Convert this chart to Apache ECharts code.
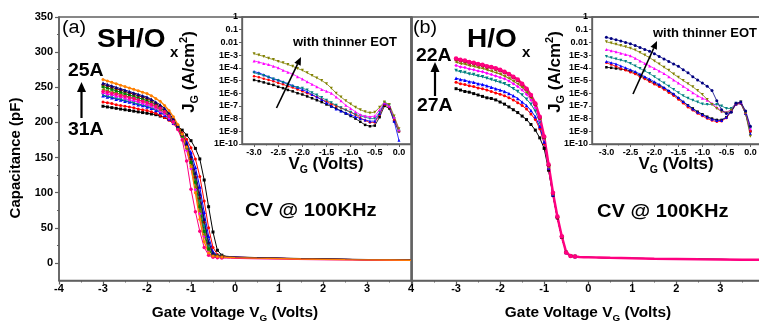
<!DOCTYPE html>
<html><head><meta charset="utf-8">
<script src="https://cdn.jsdelivr.net/npm/echarts@6/dist/echarts.min.js"></script>
<style>html,body{margin:0;padding:0;background:#fff}#c{width:759px;height:324px}</style>
</head><body><div id="c"></div>
<script>
// ---------- DATA ----------
// main C-V sweeps (Volts)
const vCV = [-3.0,-2.9,-2.8,-2.7,-2.6,-2.5,-2.4,-2.3,-2.2,-2.1,-2.0,-1.9,-1.8,-1.7,-1.6,-1.5,-1.4,-1.3,-1.2,-1.1,-1.0,-0.9,-0.8,-0.7,-0.6,-0.5,-0.4,-0.3,-0.2,-0.1,0,0.5,1,1.5,2,2.5,3,3.5,4];
// (a) SH/Ox capacitance (pF)
const cvA_black  = [223,222,221,220,219,218,217,216,215,214,213,212,211,209,207,204,200,195,189,182,174,163,148,118,80,44,18,11,9.5,9,8.6,7.6,6.9,6.3,5.8,5.3,4.9,4.6,4.4];
const cvA_red    = [229,228,227,225,224,223,222,221,219,218,217,215,213,210,207,203,198,192,185,176,164,148,123,88,50,22,12,10,9,8.6,8.3,7.4,6.7,6.1,5.6,5.1,4.7,4.4,4.2];
const cvA_blue   = [238,236,235,233,232,230,229,227,225,224,222,220,217,214,210,205,199,192,183,172,157,136,108,72,38,16,11,9.5,9,8.6,8.3,7.3,6.6,6,5.5,5,4.6,4.3,4.1];
const cvA_cyan   = [239,237,236,234,233,231,230,228,226,225,223,221,218,215,211,206,199,191,180,166,146,120,88,52,24,12,10,9,8.5,8.2,7.9,7.1,6.5,5.9,5.4,5,4.6,4.3,4.1];
const cvA_magenta= [242,240,239,237,236,234,232,231,229,227,225,223,220,216,212,206,199,190,178,160,134,104,70,38,17,11,9.5,9,8.5,8.2,7.9,7.1,6.5,5.9,5.4,5,4.6,4.3,4.1];
const cvA_olive  = [247,245,243,242,240,238,236,234,232,230,228,225,222,218,214,208,200,191,179,162,138,108,74,40,18,11,9.5,9,8.5,8.2,7.9,7.1,6.5,5.9,5.4,5,4.6,4.3,4.1];
const cvA_green  = [251,249,247,245,243,241,239,237,235,233,231,228,225,221,216,210,202,193,181,165,143,115,80,45,20,11,9.5,9,8.5,8.2,7.9,7.1,6.5,5.9,5.4,5,4.6,4.3,4.1];
const cvA_wine   = [254,252,250,248,246,244,242,240,238,236,234,231,227,223,218,212,204,194,183,168,148,122,92,58,28,13,10,9,8.5,8.2,7.9,7.1,6.5,5.9,5.4,5,4.6,4.3,4.1];
const cvA_navy   = [256,254,252,250,248,246,244,242,240,238,236,233,229,225,220,213,205,195,183,170,152,128,98,62,30,14,10,9,8.5,8.2,7.9,7.1,6.5,5.9,5.4,5,4.6,4.3,4.1];
const cvA_pink   = [244,243,241,240,238,237,235,234,232,230,228,226,223,220,215,209,201,190,175,145,105,73,45,22,11,8,7.5,7,6.8,6.6,6.4,5.8,5.3,4.8,4.4,4.1,3.8,3.6,3.4];
const cvA_orange = [261,259,257,255,253,251,249,247,245,243,241,238,234,230,224,217,208,197,183,165,137,100,62,30,14,10,9,8.5,8,7.8,7.5,6.8,6.2,5.6,5.1,4.7,4.4,4.1,3.9];
// (b) H/Ox capacitance (pF)
const cvB_black  = [248,246,244,243,241,239,237,235,234,232,229,226,222,218,214,209,204,197,189,178,163,132,96,64,37,15,10,9,8.5,8.2,8,7.2,6.6,6.1,5.7,5.3,5,4.7,4.5];
const cvB_red    = [257,255,254,252,251,249,248,246,244,242,240,238,235,232,228,224,219,212,204,191,170,134,97,65,37,15,10,9,8.5,8.2,8,7.2,6.6,6.1,5.7,5.3,5,4.7,4.5];
const cvB_blue   = [263,261,260,258,257,255,254,252,250,248,246,244,241,238,234,229,224,217,208,194,172,135,97,65,37,15,10,9,8.5,8.2,8,7.2,6.6,6.1,5.7,5.3,5,4.7,4.5];
const cvB_cyan   = [274,272,271,269,268,266,265,263,261,259,257,255,252,248,244,239,233,226,216,200,175,136,98,65,37,15,10,9,8.5,8.2,8,7.2,6.6,6.1,5.7,5.3,5,4.7,4.5];
const cvB_magenta= [281,279,278,276,275,273,272,270,268,266,264,262,259,255,251,246,240,232,221,203,176,137,98,65,37,15,10,9,8.5,8.2,8,7.2,6.6,6.1,5.7,5.3,5,4.7,4.5];
const cvB_olive  = [286,284,283,281,280,278,277,275,273,271,269,266,263,259,255,250,243,235,224,205,177,137,98,65,37,15,10,9,8.5,8.2,8,7.2,6.6,6.1,5.7,5.3,5,4.7,4.5];
const cvB_wine   = [290,288,287,285,284,282,281,279,278,276,274,271,268,264,260,254,247,238,226,207,179,139,99,65,37,15,10,9,8.5,8.2,8,7.2,6.6,6.1,5.7,5.3,5,4.7,4.5];
const cvB_pink   = [291,289,288,286,285,283,282,280,279,277,275,272,269,265,261,255,248,239,227,208,180,140,100,66,38,15,10,9,8.5,8.2,8,7.2,6.6,6.1,5.7,5.3,5,4.7,4.5];

// inset J-V sweeps (Volts) and leakage current density (A/cm^2)
const vJ = [-3.0,-2.9,-2.8,-2.7,-2.6,-2.5,-2.4,-2.3,-2.2,-2.1,-2.0,-1.9,-1.8,-1.7,-1.6,-1.5,-1.4,-1.3,-1.2,-1.1,-1.0,-0.9,-0.8,-0.7,-0.6,-0.5,-0.4,-0.3,-0.2,-0.1,0.0];
const jA_olive  = [1.3e-3,1.0e-3,7.9e-4,5.6e-4,4.5e-4,3.2e-4,2.5e-4,1.8e-4,1.3e-4,8.9e-5,6.3e-5,4.0e-5,2.5e-5,1.6e-5,1.0e-5,5.6e-6,2.5e-6,1.0e-6,5.0e-7,2.5e-7,1.4e-7,7.9e-8,5.0e-8,3.5e-8,2.8e-8,3.2e-8,7.9e-8,2.0e-7,1.3e-7,1.6e-8,1.6e-9];
const jA_magenta= [3.5e-4,2.8e-4,2.2e-4,1.8e-4,1.3e-4,1.0e-4,6.3e-5,4.5e-5,3.2e-5,2.0e-5,1.3e-5,7.9e-6,5.0e-6,3.2e-6,2.0e-6,1.4e-6,1.0e-6,5.0e-7,2.5e-7,1.1e-7,6.3e-8,3.5e-8,2.0e-8,1.6e-8,1.4e-8,1.6e-8,5.0e-8,1.8e-7,1.0e-7,1.3e-8,1.3e-9];
const jA_cyan   = [4.0e-5,3.2e-5,2.5e-5,1.8e-5,1.3e-5,1.0e-5,7.1e-6,5.0e-6,3.5e-6,2.8e-6,2.5e-6,1.8e-6,1.1e-6,7.1e-7,4.5e-7,2.8e-7,1.8e-7,1.1e-7,7.1e-8,4.5e-8,3.2e-8,2.2e-8,1.6e-8,1.3e-8,1.0e-8,1.0e-8,3.2e-8,1.8e-7,1.1e-7,1.0e-8,1.0e-9];
const jA_blue   = [5.0e-5,4.0e-5,2.8e-5,2.0e-5,1.4e-5,1.1e-5,7.9e-6,5.6e-6,4.0e-6,2.8e-6,2.0e-6,1.3e-6,7.9e-7,5.0e-7,3.2e-7,1.8e-7,1.0e-7,5.6e-8,4.0e-8,2.8e-8,2.0e-8,1.4e-8,1.0e-8,7.9e-9,6.3e-9,6.3e-9,2.5e-8,1.6e-7,1.0e-7,6.3e-9,2.0e-10];
const jA_red    = [2.2e-5,1.8e-5,1.4e-5,1.1e-5,8.9e-6,6.3e-6,5.0e-6,3.5e-6,2.8e-6,2.0e-6,1.4e-6,1.0e-6,7.1e-7,5.0e-7,3.2e-7,2.2e-7,1.4e-7,1.0e-7,7.1e-8,5.0e-8,3.2e-8,2.0e-8,1.1e-8,7.1e-9,5.0e-9,5.0e-9,2.0e-8,1.3e-7,7.9e-8,7.9e-9,1.0e-9];
const jA_black  = [1.1e-5,8.9e-6,7.1e-6,5.6e-6,4.5e-6,3.2e-6,2.5e-6,1.8e-6,1.4e-6,1.0e-6,7.9e-7,5.6e-7,4.0e-7,2.8e-7,2.0e-7,1.3e-7,8.9e-8,6.3e-8,4.0e-8,2.5e-8,1.6e-8,1.0e-8,5.6e-9,3.2e-9,2.5e-9,2.8e-9,1.3e-8,1.0e-7,6.3e-8,6.3e-9,1.0e-9];
const jB_navy   = [2.5e-2,2.0e-2,1.6e-2,1.3e-2,1.0e-2,7.9e-3,5.6e-3,4.0e-3,2.8e-3,2.0e-3,1.3e-3,7.9e-4,5.0e-4,3.2e-4,2.0e-4,1.3e-4,7.1e-5,4.0e-5,2.0e-5,1.1e-5,6.3e-6,3.5e-6,1.6e-6,2.5e-7,5.0e-8,2.5e-8,3.2e-8,1.6e-7,2.0e-7,4.0e-8,2.5e-9];
const jB_olive  = [1.1e-2,8.9e-3,7.1e-3,5.6e-3,4.5e-3,3.5e-3,2.5e-3,1.6e-3,1.0e-3,6.3e-4,3.5e-4,2.0e-4,1.1e-4,6.3e-5,3.2e-5,1.8e-5,1.0e-5,5.6e-6,3.2e-6,1.6e-6,7.9e-7,3.2e-7,1.3e-7,6.3e-8,3.5e-8,2.8e-8,4.5e-8,1.4e-7,2.0e-7,2.5e-8,4.0e-10];
const jB_magenta= [2.8e-3,2.2e-3,1.8e-3,1.4e-3,1.1e-3,8.9e-4,5.6e-4,3.5e-4,2.2e-4,1.4e-4,8.9e-5,5.6e-5,3.5e-5,2.0e-5,1.1e-5,6.3e-6,3.5e-6,2.0e-6,1.1e-6,6.3e-7,4.0e-7,2.8e-7,1.6e-7,7.9e-8,4.0e-8,3.2e-8,5.0e-8,1.6e-7,2.0e-7,3.2e-8,1.6e-9];
const jB_cyan   = [7.9e-4,6.3e-4,5.0e-4,4.0e-4,3.2e-4,2.2e-4,1.4e-4,8.9e-5,5.6e-5,3.5e-5,2.0e-5,1.1e-5,6.3e-6,3.5e-6,2.0e-6,1.1e-6,6.3e-7,4.0e-7,2.8e-7,2.0e-7,1.4e-7,1.3e-7,1.3e-7,1.3e-7,1.0e-7,6.3e-8,6.3e-8,1.6e-7,2.0e-7,3.2e-8,1.6e-9];
const jB_blue   = [3.2e-4,2.5e-4,2.0e-4,1.4e-4,1.0e-4,7.1e-5,5.0e-5,3.2e-5,2.0e-5,1.3e-5,7.9e-6,5.0e-6,2.8e-6,1.6e-6,8.9e-7,4.5e-7,2.2e-7,1.1e-7,5.6e-8,3.2e-8,2.0e-8,1.3e-8,8.9e-9,7.1e-9,7.1e-9,1.3e-8,4.0e-8,1.4e-7,1.8e-7,2.5e-8,6.3e-10];
const jB_red    = [2.5e-4,1.8e-4,1.3e-4,8.9e-5,6.3e-5,4.5e-5,3.2e-5,2.0e-5,1.3e-5,7.9e-6,5.0e-6,3.2e-6,2.0e-6,1.1e-6,6.3e-7,3.2e-7,1.6e-7,7.9e-8,4.5e-8,2.5e-8,1.6e-8,1.0e-8,7.1e-9,5.6e-9,6.3e-9,1.1e-8,3.5e-8,1.3e-7,1.6e-7,2.5e-8,1.0e-9];
const jB_black  = [1.1e-4,1.0e-4,8.9e-5,7.9e-5,7.1e-5,5.6e-5,4.0e-5,2.5e-5,1.6e-5,1.0e-5,6.3e-6,4.0e-6,2.5e-6,1.4e-6,7.9e-7,4.0e-7,2.0e-7,1.1e-7,6.3e-8,3.5e-8,2.2e-8,1.4e-8,1.0e-8,7.9e-9,7.9e-9,1.3e-8,4.0e-8,1.4e-7,1.6e-7,2.5e-8,1.0e-9];

// tick values / labels
const cvYTicks = [0,50,100,150,200,250,300,350];
const cvYMinor = [25,75,125,175,225,275,325];
const cvXTicksB = [-3,-2,-1,0,1,2,3];
const insetXTicks = [-3.0,-2.5,-2.0,-1.5,-1.0,-0.5,0.0];
const insetXMinor = [-2.75,-2.25,-1.75,-1.25,-0.75,-0.25];
const jDecadeLabels = {'0':'1','-1':'0.1','-2':'0.01','-3':'1E-3','-4':'1E-4','-5':'1E-5','-6':'1E-6','-7':'1E-7','-8':'1E-8','-9':'1E-9','-10':'1E-10'};

// ---------- STYLE ----------
const FF = '"Liberation Sans", Arial, Helvetica, sans-serif';
const AX = '#606060';
const COL = {black:'#000000', red:'#ff0000', blue:'#0000ff', cyan:'#008080', magenta:'#ff00ff', olive:'#808000',
  green:'#008000', wine:'#800000', navy:'#000080', pink:'#ff0080', orange:'#ff8000'};

const lblMain = {color:'#000', fontWeight:'bold', fontSize:11, fontFamily:FF};
const lblInset = {color:'#000', fontWeight:'bold', fontSize:9, fontFamily:FF};
const line = (w) => ({show:true, onZero:false, lineStyle:{color:AX, width:w}});
const hidden = {show:false, onZero:false};
const noSplit = {show:false};

const grids = [
  {left:59, top:17, width:352, height:263.5},
  {left:412, top:17, width:348, height:263.5},
  {left:242, top:17, width:169, height:127},
  {left:592, top:17, width:168, height:127}
].map(g => Object.assign(g, {show:true, borderColor:AX, borderWidth:1.5, backgroundColor:'transparent', containLabel:false, outerBoundsMode:'none'}));

const xAxes = [
  {gridIndex:0, type:'value', position:'bottom', min:-4, max:4, interval:1, axisLine:line(1.5),
   axisTick:{show:true, length:4, lineStyle:{color:AX, width:1.2}},
   minorTick:{show:true, splitNumber:2, length:2, lineStyle:{color:AX, width:1}},
   axisLabel:Object.assign({margin:3}, lblMain), splitLine:noSplit, minorSplitLine:noSplit},
  {gridIndex:1, type:'value', position:'bottom', min:-4, max:3.9, axisLine:line(1.5),
   axisTick:{show:true, length:4, customValues:[-4,-3,-2,-1,0,1,2,3], lineStyle:{color:AX, width:1.2}},
   axisLabel:Object.assign({margin:3, customValues:cvXTicksB}, lblMain), splitLine:noSplit},
  {gridIndex:1, type:'value', position:'bottom', min:-4, max:3.9, axisLine:hidden,
   axisTick:{show:true, length:2, customValues:[-3.5,-2.5,-1.5,-0.5,0.5,1.5,2.5,3.5], lineStyle:{color:AX, width:1}},
   axisLabel:{show:false}, splitLine:noSplit},
  {gridIndex:2, type:'value', position:'bottom', min:-3.25, max:0.25, axisLine:line(1.3),
   axisTick:{show:true, length:3, customValues:insetXTicks, lineStyle:{color:AX}},
   axisLabel:Object.assign({margin:4, customValues:insetXTicks, formatter:v=>Number(v).toFixed(1)}, lblInset), splitLine:noSplit},
  {gridIndex:2, type:'value', position:'bottom', min:-3.25, max:0.25, axisLine:hidden,
   axisTick:{show:true, length:1.5, customValues:insetXMinor, lineStyle:{color:AX}}, axisLabel:{show:false}, splitLine:noSplit},
  {gridIndex:3, type:'value', position:'bottom', min:-3.3, max:0.2, axisLine:line(1.3),
   axisTick:{show:true, length:3, customValues:insetXTicks, lineStyle:{color:AX}},
   axisLabel:Object.assign({margin:4, customValues:insetXTicks, formatter:v=>Number(v).toFixed(1)}, lblInset), splitLine:noSplit},
  {gridIndex:3, type:'value', position:'bottom', min:-3.3, max:0.2, axisLine:hidden,
   axisTick:{show:true, length:1.5, customValues:insetXMinor, lineStyle:{color:AX}}, axisLabel:{show:false}, splitLine:noSplit}
];

const decadeFmt = v => jDecadeLabels[String(Math.round(v))] || '';
const yAxes = [
  {gridIndex:0, type:'value', position:'left', min:-25, max:350, axisLine:line(1.5),
   axisTick:{show:true, length:4, customValues:cvYTicks, lineStyle:{color:AX, width:1.2}},
   axisLabel:Object.assign({margin:6, customValues:cvYTicks}, lblMain), splitLine:noSplit},
  {gridIndex:0, type:'value', position:'left', min:-25, max:350, axisLine:hidden,
   axisTick:{show:true, length:2, customValues:cvYMinor, lineStyle:{color:AX}}, axisLabel:{show:false}, splitLine:noSplit},
  {gridIndex:1, type:'value', position:'left', min:-25, max:350, axisLine:line(1.5),
   axisTick:{show:false}, axisLabel:{show:false}, splitLine:noSplit},
  {gridIndex:2, type:'log', logBase:10, position:'left', min:1e-10, max:1, axisLine:line(1.3),
   axisTick:{show:false}, axisLabel:{show:false}, splitLine:noSplit, minorTick:{show:false}},
  {gridIndex:2, type:'value', position:'left', min:-10, max:0, interval:1, axisLine:hidden,
   axisTick:{show:true, length:3, lineStyle:{color:AX}},
   axisLabel:Object.assign({margin:4, formatter:decadeFmt}, lblInset), splitLine:noSplit},
  {gridIndex:3, type:'log', logBase:10, position:'left', min:1e-10, max:1, axisLine:line(1.3),
   axisTick:{show:false}, axisLabel:{show:false}, splitLine:noSplit, minorTick:{show:false}},
  {gridIndex:3, type:'value', position:'left', min:-10, max:0, interval:1, axisLine:hidden,
   axisTick:{show:true, length:3, lineStyle:{color:AX}},
   axisLabel:Object.assign({margin:4, formatter:decadeFmt}, lblInset), splitLine:noSplit}
];

function ser(xs, ys, color, sym, rot, xi, yi, size, lw, tailCut) {
  return {type:'line', xAxisIndex:xi, yAxisIndex:yi, data:xs.map((x,i)=>[x, ys[i]]),
    symbol:sym, symbolRotate:rot, showSymbol:true, showAllSymbol:true,
    symbolSize: tailCut ? (v => (v[0] > -0.25 ? 0 : size)) : size,
    itemStyle:{color:color}, lineStyle:{color:color, width:lw}, animation:false, silent:true, clip:true};
}
const series = [
  // (a) main
  ser(vCV, cvA_black, COL.black, 'rect', 0, 0, 0, 3, 1, true),
  ser(vCV, cvA_red, COL.red, 'circle', 0, 0, 0, 3, 1, true),
  ser(vCV, cvA_blue, COL.blue, 'triangle', 0, 0, 0, 3.5, 1, true),
  ser(vCV, cvA_cyan, COL.cyan, 'triangle', 180, 0, 0, 3.5, 1, true),
  ser(vCV, cvA_magenta, COL.magenta, 'diamond', 0, 0, 0, 3.5, 1, true),
  ser(vCV, cvA_olive, COL.olive, 'triangle', 90, 0, 0, 3.5, 1, true),
  ser(vCV, cvA_green, COL.green, 'rect', 0, 0, 0, 3, 1, true),
  ser(vCV, cvA_wine, COL.wine, 'diamond', 0, 0, 0, 3.5, 1, true),
  ser(vCV, cvA_navy, COL.navy, 'triangle', 0, 0, 0, 3.5, 1, true),
  ser(vCV, cvA_pink, COL.pink, 'circle', 0, 0, 0, 3.5, 1, true),
  ser(vCV, cvA_orange, COL.orange, 'circle', 0, 0, 0, 3, 1.4, true),
  // (b) main
  ser(vCV, cvB_black, COL.black, 'rect', 0, 1, 2, 3, 1, true),
  ser(vCV, cvB_red, COL.red, 'circle', 0, 1, 2, 3, 1, true),
  ser(vCV, cvB_blue, COL.blue, 'triangle', 0, 1, 2, 3.5, 1, true),
  ser(vCV, cvB_cyan, COL.cyan, 'triangle', 180, 1, 2, 3.5, 1, true),
  ser(vCV, cvB_magenta, COL.magenta, 'diamond', 0, 1, 2, 3.5, 1, true),
  ser(vCV, cvB_olive, COL.olive, 'triangle', 90, 1, 2, 3.5, 1, true),
  ser(vCV, cvB_wine, COL.wine, 'circle', 0, 1, 2, 4, 1, true),
  ser(vCV, cvB_pink, COL.pink, 'circle', 0, 1, 2, 4.5, 2.5, true),
  // (a) inset
  ser(vJ, jA_black, COL.black, 'rect', 0, 3, 3, 2.5, 0.8, false),
  ser(vJ, jA_red, COL.red, 'circle', 0, 3, 3, 2.5, 0.8, false),
  ser(vJ, jA_blue, COL.blue, 'triangle', 0, 3, 3, 3, 0.8, false),
  ser(vJ, jA_cyan, COL.cyan, 'triangle', 180, 3, 3, 3, 0.8, false),
  ser(vJ, jA_magenta, COL.magenta, 'triangle', 0, 3, 3, 3, 0.8, false),
  ser(vJ, jA_olive, COL.olive, 'triangle', 180, 3, 3, 3, 0.8, false),
  // (b) inset
  ser(vJ, jB_black, COL.black, 'rect', 0, 5, 5, 2.5, 0.8, false),
  ser(vJ, jB_red, COL.red, 'circle', 0, 5, 5, 2.5, 0.8, false),
  ser(vJ, jB_blue, COL.blue, 'triangle', 0, 5, 5, 3, 0.8, false),
  ser(vJ, jB_cyan, COL.cyan, 'triangle', 180, 5, 5, 3, 0.8, false),
  ser(vJ, jB_magenta, COL.magenta, 'triangle', 0, 5, 5, 3, 0.8, false),
  ser(vJ, jB_olive, COL.olive, 'triangle', 180, 5, 5, 3, 0.8, false),
  ser(vJ, jB_navy, COL.navy, 'circle', 0, 5, 5, 3, 0.8, false)
];

// ---------- ANNOTATIONS ----------
function txt(x, y, text, size, o) {
  o = o || {};
  const st = {text:text, font:(o.weight||'bold') + ' ' + size + 'px ' + FF, fill:'#000',
    align:o.align||'left', verticalAlign:'middle', textAlign:o.align||'left', textVerticalAlign:'middle'};
  if (o.rich) {
    st.lineHeight = o.lh || size + 6;
    st.rich = {
      sub:{font:'bold ' + Math.round(size*0.65) + 'px ' + FF, verticalAlign:'bottom', lineHeight:Math.round(size*0.65)},
      sup:{font:'bold ' + Math.round(size*0.65) + 'px ' + FF, verticalAlign:'top', lineHeight:Math.round(size*0.65)}
    };
  }
  return {type:'text', x:x, y:y, rotation:o.rot||0, scaleX:o.sx||1, z:100, style:st};
}
function arrow(x1, y1, x2, y2, w, L, W) {
  const a = Math.atan2(y2-y1, x2-x1);
  const bx = x2 - L*Math.cos(a), by = y2 - L*Math.sin(a);
  const px = -Math.sin(a)*W/2, py = Math.cos(a)*W/2;
  return [
    {type:'line', z:100, shape:{x1:x1, y1:y1, x2:bx, y2:by}, style:{stroke:'#000', lineWidth:w}},
    {type:'polygon', z:100, shape:{points:[[x2,y2],[bx+px,by+py],[bx-px,by-py]]}, style:{fill:'#000'}}
  ];
}
const graphic = [
  txt(62, 28, '(a)', 18, {weight:'normal', sx:1.1}),
  txt(97, 40, 'SH/O', 25, {sx:1.12}),
  txt(170, 53, 'x', 15),
  txt(68, 71, '25A', 18, {sx:1.08}),
  txt(68, 130, '31A', 18, {sx:1.08}),
  ...arrow(81.5, 118, 81.5, 82, 2.2, 10, 9),
  txt(245, 211, 'CV @ 100KHz', 19, {sx:1.06}),
  txt(293, 42, 'with thinner EOT', 13),
  ...arrow(276.5, 108, 301, 57, 1.6, 8, 7),
  txt(189, 72, 'J{sub|G} (A/cm{sup|2})', 17, {rich:true, align:'center', rot:Math.PI/2, lh:22}),
  txt(326, 165, 'V{sub|G} (Volts)', 16, {rich:true, align:'center', lh:20, sx:1.05}),
  txt(413, 28, '(b)', 18, {weight:'normal', sx:1.1}),
  txt(467, 40, 'H/O', 25, {sx:1.12}),
  txt(522, 53, 'x', 15),
  txt(416, 56, '22A', 18, {sx:1.08}),
  txt(417, 106.5, '27A', 18, {sx:1.08}),
  ...arrow(435, 96, 435, 62, 2.2, 10, 9),
  txt(597, 212, 'CV @ 100KHz', 19, {sx:1.06}),
  txt(653, 33, 'with thinner EOT', 13),
  ...arrow(633, 94, 657, 41, 1.6, 8, 7),
  txt(555, 72, 'J{sub|G} (A/cm{sup|2})', 17, {rich:true, align:'center', rot:Math.PI/2, lh:22}),
  txt(676, 165, 'V{sub|G} (Volts)', 16, {rich:true, align:'center', lh:20, sx:1.05}),
  txt(16, 158, 'Capacitance (pF)', 15, {align:'center', rot:Math.PI/2}),
  txt(235, 313, 'Gate Voltage V{sub|G} (Volts)', 14, {rich:true, align:'center', lh:20, sx:1.1}),
  txt(588, 313, 'Gate Voltage V{sub|G} (Volts)', 14, {rich:true, align:'center', lh:20, sx:1.1})
];

const chart = echarts.init(document.getElementById('c'), null, {renderer:'canvas'});
chart.setOption({
  animation:false, backgroundColor:'#fff',
  grid:grids, xAxis:xAxes, yAxis:yAxes, series:series, graphic:graphic
});
</script>
</body></html>
